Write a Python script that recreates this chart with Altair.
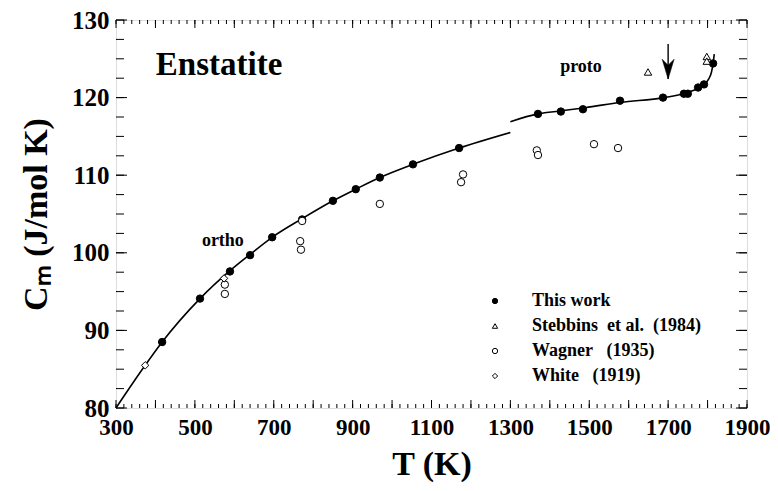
import altair as alt
import pandas as pd

# ---- data ----
ortho_T = [300, 374, 417, 513, 589, 640, 696, 772, 850, 908, 969, 1053, 1170, 1300]
ortho_C = [80.0, 85.5, 88.5, 94.1, 97.7, 99.8, 102.0, 104.4, 106.7, 108.2, 109.7, 111.4, 113.5, 115.5]
proto_T = [1300, 1370, 1430, 1490, 1580, 1690, 1745, 1776, 1791, 1803, 1810, 1814, 1817]
proto_C = [116.9, 117.9, 118.3, 118.7, 119.4, 120.0, 120.6, 121.2, 121.7, 122.4, 123.3, 124.4, 125.6]

work_T = [417, 513, 589, 640, 696, 772, 850, 908, 969, 1053, 1170, 1370, 1428, 1484, 1578, 1687, 1740, 1750, 1776, 1791, 1814]
work_C = [88.5, 94.1, 97.6, 99.7, 102.0, 104.3, 106.7, 108.2, 109.7, 111.4, 113.5, 117.9, 118.2, 118.5, 119.6, 120.0, 120.5, 120.5, 121.3, 121.7, 124.4]
stebbins_T = [1649, 1798, 1798]
stebbins_C = [123.3, 125.3, 124.7]
wagner_T = [576, 576, 767, 769, 772, 969, 1180, 1175, 1367, 1370, 1512, 1573]
wagner_C = [95.9, 94.7, 101.5, 100.4, 104.1, 106.3, 110.1, 109.1, 113.2, 112.6, 114.0, 113.5]
white_T = [374, 574]
white_C = [85.5, 96.7]

series = ["This work", "Stebbins\u00a0\u00a0et al.\u00a0\u00a0(1984)", "Wagner\u00a0\u00a0\u00a0(1935)", "White\u00a0\u00a0\u00a0(1919)"]

arrow_T = [1700]
arrow_top = [126.9]
arrow_tip = [122.4]

title_text = ["Enstatite"]
title_T = [401]
title_C = [122.9]
phase_text = ["ortho", "proto"]
phase_T = [571, 1479]
phase_C = [101.5, 124.0]

x_labels = list(range(300, 1901, 200))
y_labels = list(range(80, 131, 10))
x_major = list(range(300, 1901, 100))
x_minor = list(range(300, 1901, 20))
y_major = list(range(80, 131, 10))
y_minor = [80 + 2.5 * i for i in range(21)]

# ---- tables ----
curve_o = pd.DataFrame({"T": ortho_T, "C": ortho_C})
curve_p = pd.DataFrame({"T": proto_T, "C": proto_C})
pts = pd.concat([
    pd.DataFrame({"T": work_T, "C": work_C, "src": series[0]}),
    pd.DataFrame({"T": stebbins_T, "C": stebbins_C, "src": series[1]}),
    pd.DataFrame({"T": wagner_T, "C": wagner_C, "src": series[2]}),
    pd.DataFrame({"T": white_T, "C": white_C, "src": series[3]}),
])
arrow = pd.DataFrame({"T": arrow_T, "top": arrow_top, "tip": arrow_tip})
t1 = pd.DataFrame({"T": title_T, "C": title_C, "txt": title_text})
t2 = pd.DataFrame({"T": phase_T, "C": phase_C, "txt": phase_text})

W, H = 631, 388
X_MIN, X_MAX, Y_MIN, Y_MAX = 300, 1900, 80, 130
FONT = "Liberation Serif"
xs = alt.Scale(domain=[X_MIN, X_MAX], nice=False, zero=False)
ys = alt.Scale(domain=[Y_MIN, Y_MAX], nice=False, zero=False)

x_axis = alt.Axis(
    orient="bottom", values=x_labels, ticks=False, domain=False, grid=False, format="d",
    labelFont=FONT, labelFontWeight="bold", labelFontSize=23, labelColor="black",
    labelPadding=8, labelFlush=False, labelOverlap=False,
    titleFont=FONT, titleFontWeight="bold", titleFontSize=34, titleColor="black",
    titlePadding=8)
y_axis = alt.Axis(
    orient="left", values=y_labels, ticks=False, domain=False, grid=False, format="d",
    labelFont=FONT, labelFontWeight="bold", labelFontSize=25, labelColor="black",
    labelPadding=7, labelFlush=False, labelOverlap=False,
    titleFont=FONT, titleFontWeight="bold", titleFontSize=34, titleColor="black",
    titlePadding=18)


def X(field):
    return alt.X(field, scale=xs, axis=None)


def Y(field):
    return alt.Y(field, scale=ys, axis=None)


ortho = alt.Chart(curve_o).mark_line(color="black", strokeWidth=1.6, interpolate="monotone").encode(
    x=alt.X("T:Q", scale=xs, title="T (K)", axis=x_axis),
    y=alt.Y("C:Q", scale=ys, title="C\u2098 (J/mol K)", axis=y_axis))

proto = alt.Chart(curve_p).mark_line(color="black", strokeWidth=1.6, interpolate="monotone").encode(
    x=X("T:Q"), y=Y("C:Q"))

leg = alt.Legend(title=None, orient="none", legendX=370, legendY=272, padding=0,
                 labelFont=FONT, labelFontWeight="bold", labelFontSize=18, labelColor="black",
                 labelOffset=28, rowPadding=7, symbolSize=28, symbolStrokeWidth=1,
                 symbolStrokeColor="black", labelLimit=400)
points = alt.Chart(pts).mark_point(filled=True, strokeWidth=1, opacity=1, size=55).encode(
    x=X("T:Q"), y=Y("C:Q"),
    shape=alt.Shape("src:N", scale=alt.Scale(domain=series, range=["circle", "triangle-up", "circle", "diamond"]),
                    legend=leg),
    fill=alt.Fill("src:N", scale=alt.Scale(domain=series, range=["black", "white", "white", "white"]),
                  legend=leg),
    stroke=alt.Stroke("src:N", scale=alt.Scale(domain=series, range=["black", "black", "black", "black"]),
                      legend=leg),
)

title_layer = alt.Chart(t1).mark_text(font=FONT, fontWeight="bold", fontSize=33, color="black",
                                      align="left", baseline="alphabetic").encode(
    x=X("T:Q"), y=Y("C:Q"), text="txt:N")

phase_layer = alt.Chart(t2).mark_text(font=FONT, fontWeight="bold", fontSize=18, color="black",
                                      align="center", baseline="middle").encode(
    x=X("T:Q"), y=Y("C:Q"), text="txt:N")

shaft = alt.Chart(arrow).mark_rule(color="black", strokeWidth=1.4).encode(
    x=X("T:Q"), y=Y("top:Q"), y2=alt.Y2("tip:Q"))

head = alt.Chart(arrow).mark_point(shape="M0,0 L-1,-3.3 L0,-2.3 L1,-3.3 Z", filled=True,
                                   fill="black", stroke="black", strokeWidth=0.5,
                                   size=144, opacity=1).encode(
    x=X("T:Q"), y=Y("tip:Q"))


# inward tick marks on all four sides: rules whose ends sit on the frame, through the scales
def xticks(vals, length):
    d = length * (Y_MAX - Y_MIN) / H
    base = alt.Chart(pd.DataFrame({"v": vals})).transform_calculate(
        b0=f"{Y_MIN}", b1=f"{Y_MIN} + {d}", t0=f"{Y_MAX}", t1=f"{Y_MAX} - {d}")
    bottom = base.mark_rule(color="black", strokeWidth=1).encode(
        x=X("v:Q"), y=Y("b0:Q"), y2=alt.Y2("b1:Q"))
    top = base.mark_rule(color="black", strokeWidth=1).encode(
        x=X("v:Q"), y=Y("t0:Q"), y2=alt.Y2("t1:Q"))
    return [bottom, top]


def yticks(vals, length):
    d = length * (X_MAX - X_MIN) / W
    base = alt.Chart(pd.DataFrame({"v": vals})).transform_calculate(
        l0=f"{X_MIN}", l1=f"{X_MIN} + {d}", r0=f"{X_MAX}", r1=f"{X_MAX} - {d}")
    left = base.mark_rule(color="black", strokeWidth=1).encode(
        y=Y("v:Q"), x=X("l0:Q"), x2=alt.X2("l1:Q"))
    right = base.mark_rule(color="black", strokeWidth=1).encode(
        y=Y("v:Q"), x=X("r0:Q"), x2=alt.X2("r1:Q"))
    return [left, right]


tick_layers = xticks(x_minor, 4) + xticks(x_major, 8) + yticks(y_minor, 8) + yticks(y_major, 11)

chart = alt.layer(ortho, proto, *tick_layers, points, title_layer, phase_layer, shaft, head).resolve_axis(
    x="independent", y="independent"
).properties(
    width=W, height=H,
    autosize=alt.AutoSizeParams(type="none"),
    padding={"left": 108, "top": 12, "right": 23, "bottom": 75},
).configure_view(
    stroke="black", strokeWidth=2
).configure(background="white")

chart.save("out.html", embed_options={"renderer": "svg", "actions": False})
